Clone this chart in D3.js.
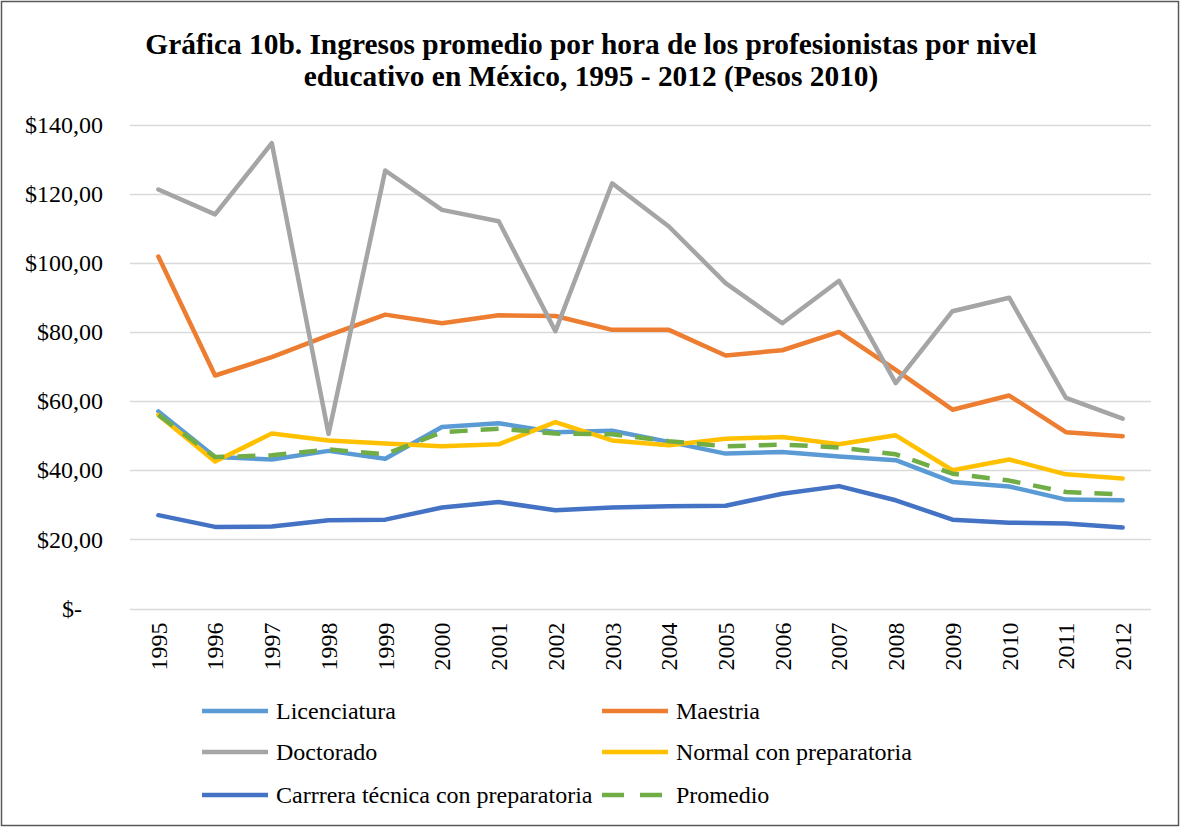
<!DOCTYPE html>
<html>
<head>
<meta charset="utf-8">
<script src="https://cdn.jsdelivr.net/npm/d3@7"></script>
<style>
  body { margin: 0; background: #fff; }
  svg { display: block; }
</style>
</head>
<body>
<svg id="chart" width="1180" height="827"></svg>
<script>
const years = ["1995","1996","1997","1998","1999","2000","2001","2002","2003","2004","2005","2006","2007","2008","2009","2010","2011","2012"];
const licenciatura = [57.0, 43.8, 43.1, 45.6, 43.3, 52.5, 53.6, 51.0, 51.4, 48.2, 44.8, 45.3, 44.0, 42.9, 36.6, 35.3, 31.5, 31.3];
const maestria     = [101.8, 67.4, 72.7, 79.0, 85.0, 82.5, 84.8, 84.6, 80.6, 80.6, 73.2, 74.7, 80.0, 69.0, 57.5, 61.6, 51.0, 49.8];
const doctorado    = [121.2, 114.0, 134.6, 50.5, 126.7, 115.3, 112.0, 80.2, 123.0, 110.5, 94.1, 82.5, 94.8, 65.2, 86.0, 89.9, 60.9, 54.9];
const normal       = [56.0, 42.5, 50.6, 48.6, 47.7, 46.9, 47.5, 53.9, 48.6, 47.2, 49.1, 49.6, 47.5, 50.1, 40.0, 43.1, 38.8, 37.6];
const carrera      = [27.0, 23.6, 23.7, 25.5, 25.7, 29.2, 30.8, 28.4, 29.2, 29.6, 29.7, 33.2, 35.4, 31.3, 25.7, 24.8, 24.6, 23.4];
const promedio     = [56.0, 43.8, 44.3, 46.0, 44.6, 51.0, 52.0, 50.6, 50.4, 48.4, 46.9, 47.4, 46.6, 44.6, 39.0, 37.0, 33.7, 33.0];
const yTicks = [0, 20, 40, 60, 80, 100, 120, 140];
const titleLines = ["Gráfica 10b. Ingresos promedio por hora de los profesionistas por nivel",
                    "educativo en México, 1995 - 2012 (Pesos 2010)"];

const series = [
  {name: "Licenciatura", values: licenciatura, color: "#5B9BD5", dash: null},
  {name: "Maestria", values: maestria, color: "#ED7D31", dash: null},
  {name: "Doctorado", values: doctorado, color: "#A5A5A5", dash: null},
  {name: "Normal con preparatoria", values: normal, color: "#FFC000", dash: null},
  {name: "Carrrera técnica con preparatoria", values: carrera, color: "#4472C4", dash: null},
  {name: "Promedio", values: promedio, color: "#70AD47", dash: "18,13"}
];

const svg = d3.select("#chart");
const font = "'Liberation Serif', 'Times New Roman', serif";

// Outer border
svg.append("rect").attr("x", 1.5).attr("y", 1.5).attr("width", 1177).attr("height", 824)
  .attr("fill", "#fff").attr("stroke", "#595959").attr("stroke-width", 1.5);

const pLeft = 130, pRight = 1151, pTop = 124.5, pBottom = 608.5;
const x = d3.scaleBand().domain(years).range([pLeft, pRight]);
const y = d3.scaleLinear().domain([0, 140]).range([pBottom, pTop]);

// Title
svg.append("g").selectAll("text").data(titleLines).join("text")
  .attr("x", 591).attr("y", (d, i) => 54 + i * 32)
  .attr("text-anchor", "middle")
  .attr("font-family", font).attr("font-weight", "bold").attr("font-size", 29.4)
  .attr("fill", "#000").text(d => d);

// Gridlines
svg.append("g").selectAll("line").data(yTicks).join("line")
  .attr("x1", pLeft).attr("x2", pRight)
  .attr("y1", d => Math.round(y(d)) + 0.5).attr("y2", d => Math.round(y(d)) + 0.5)
  .attr("stroke", "#D9D9D9").attr("stroke-width", 1.5);

// Y axis labels
const yAxis = d3.axisLeft(y).tickValues(yTicks).tickSize(0).tickPadding(0)
  .tickFormat(d => d === 0 ? "$-" : "$" + d + ",00");
const yg = svg.append("g").attr("transform", `translate(${pLeft - 27},0)`).call(yAxis);
yg.select(".domain").remove();
yg.selectAll("text").attr("font-family", font).attr("font-size", 24).attr("fill", "#000")
  .attr("dy", "0.32em")
  .attr("x", d => d === 0 ? -21 : 0);

// X axis labels
const xAxis = d3.axisBottom(x).tickSize(0).tickPadding(0);
const xg = svg.append("g").attr("transform", `translate(0,${pBottom})`).call(xAxis);
xg.select(".domain").remove();
xg.selectAll("text").attr("font-family", font).attr("font-size", 24).attr("fill", "#000")
  .attr("text-anchor", "end").attr("transform", "rotate(-90)")
  .attr("x", -14).attr("y", 0).attr("dy", "0.35em");

// Lines
const line = d3.line().x((d, i) => x(years[i]) + x.bandwidth() / 2).y(d => y(d));
svg.append("g").selectAll("path").data(series).join("path")
  .attr("d", d => line(d.values))
  .attr("fill", "none").attr("stroke", d => d.color).attr("stroke-width", 4.5)
  .attr("stroke-linejoin", "round").attr("stroke-linecap", d => d.dash ? "butt" : "round")
  .attr("stroke-dasharray", d => d.dash);

// Legend
const legendPos = [[202, 711], [602, 711], [202, 752], [602, 752], [202, 795], [602, 795]];
const lg = svg.append("g").selectAll("g").data(series).join("g")
  .attr("transform", (d, i) => `translate(${legendPos[i][0]},${legendPos[i][1]})`);
lg.append("line").attr("x1", 0).attr("x2", 66).attr("y1", 0).attr("y2", 0)
  .attr("stroke", d => d.color).attr("stroke-width", 4.5)
  .attr("stroke-dasharray", d => d.dash ? "22,16" : null);
lg.append("text").attr("x", 74).attr("y", 0).attr("dy", "0.33em")
  .attr("font-family", font).attr("font-size", 24).attr("fill", "#000")
  .text(d => d.name);
</script>
</body>
</html>
